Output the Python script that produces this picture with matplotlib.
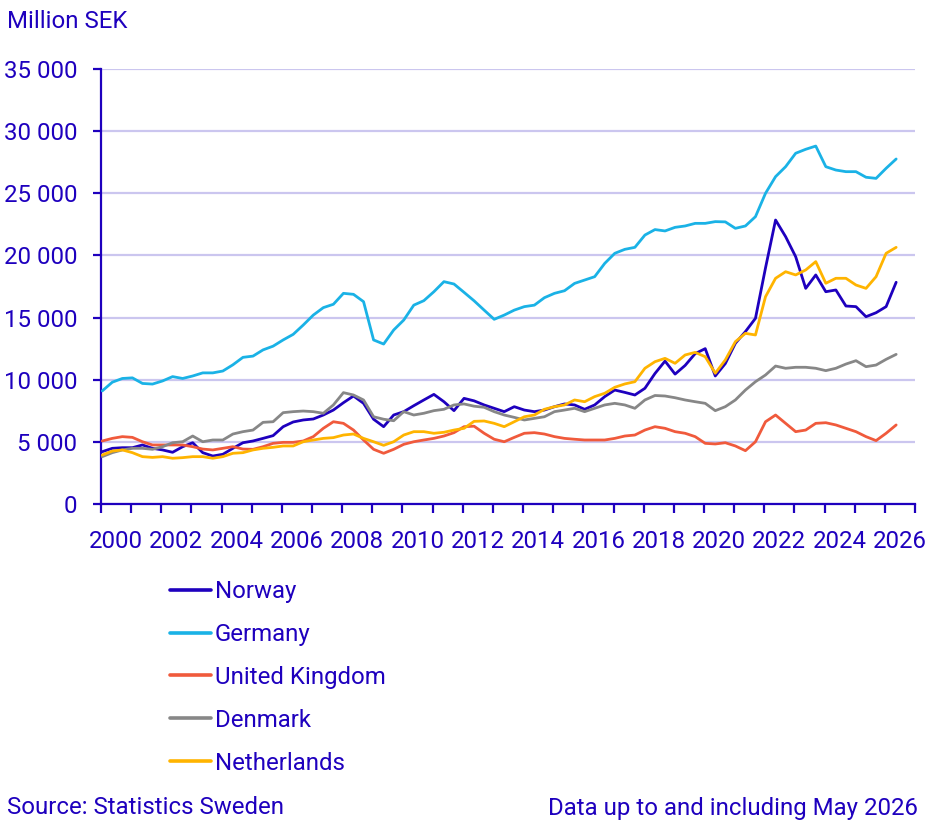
import matplotlib
matplotlib.use("Agg")
import matplotlib.pyplot as plt
from matplotlib.ticker import FixedLocator, FuncFormatter, NullFormatter
import pandas as pd
import numpy as np

plt.rcParams['font.family'] = ['Roboto', 'DejaVu Sans']

# Observation dates (every 4th month, Jan 2000 - May 2026)
dates = pd.date_range('2000-01-01', '2026-05-01', freq='4MS')

norway = [4210, 4480, 4530, 4530, 4750, 4480, 4350, 4160, 4610, 4930,
          4130, 3860, 4000, 4480, 4930, 5070, 5280, 5500, 6220, 6600,
          6760, 6840, 7160, 7560, 8150, 8690, 8100, 6820, 6220, 7160,
          7430, 7910, 8370, 8820, 8230, 7510, 8500, 8300, 7970, 7700,
          7430, 7830, 7560, 7430, 7560, 7830, 8050, 7970, 7620, 7970,
          8640, 9170, 8980, 8770, 9310, 10500, 11500, 10450, 11150, 12100,
          12500, 10300, 11300, 12930, 13870, 14940, 19000, 22850, 21510, 19900,
          17350, 18430, 17080, 17220, 15930, 15880, 15070, 15390, 15880, 17840]

germany = [9100, 9800, 10100, 10150, 9700, 9650, 9900, 10250, 10100, 10300,
           10550, 10550, 10700, 11200, 11800, 11900, 12400, 12700, 13200, 13650,
           14400, 15200, 15800, 16070, 16950, 16870, 16280, 13200, 12870, 14000,
           14800, 16000, 16360, 17080, 17890, 17700, 17030, 16350, 15600, 14860,
           15200, 15600, 15880, 16000, 16600, 16950, 17160, 17750, 18020, 18290,
           19360, 20170, 20490, 20650, 21640, 22080, 21970, 22260, 22370, 22580,
           22580, 22720, 22700, 22180, 22370, 23120, 25000, 26340, 27140, 28220,
           28540, 28800, 27140, 26870, 26740, 26740, 26290, 26200, 27010, 27760]

united_kingdom = [5070, 5280, 5420, 5360, 5010, 4750, 4750, 4750, 4750, 4610,
                  4420, 4350, 4480, 4610, 4420, 4400, 4610, 4880, 4960, 4960,
                  5070, 5420, 6090, 6620, 6490, 5950, 5150, 4400, 4080, 4400,
                  4800, 5010, 5150, 5280, 5470, 5740, 6220, 6260, 5690, 5210,
                  5010, 5360, 5690, 5740, 5630, 5420, 5280, 5210, 5150, 5150,
                  5150, 5280, 5470, 5550, 5950, 6220, 6090, 5820, 5690, 5420,
                  4880, 4830, 4930, 4670, 4290, 5010, 6620, 7160, 6490, 5820,
                  5950, 6490, 6540, 6360, 6090, 5820, 5420, 5100, 5690, 6360]

denmark = [3810, 4130, 4350, 4480, 4480, 4400, 4610, 4930, 5010, 5470,
           5010, 5150, 5150, 5630, 5820, 5950, 6570, 6620, 7350, 7430,
           7480, 7430, 7300, 7970, 8960, 8770, 8370, 7020, 6820, 6700,
           7430, 7160, 7300, 7510, 7620, 7970, 8050, 7870, 7780, 7430,
           7160, 6970, 6760, 6890, 7020, 7430, 7560, 7700, 7430, 7700,
           7970, 8100, 7970, 7700, 8370, 8730, 8690, 8550, 8370, 8230,
           8100, 7510, 7830, 8370, 9170, 9840, 10380, 11100, 10920, 11000,
           11000, 10920, 10730, 10920, 11260, 11530, 11050, 11180, 11640, 12040]

netherlands = [3940, 4260, 4350, 4130, 3810, 3750, 3810, 3680, 3730, 3810,
               3810, 3680, 3810, 4080, 4130, 4350, 4480, 4560, 4670, 4670,
               5010, 5150, 5280, 5340, 5550, 5630, 5280, 5010, 4720, 5010,
               5550, 5820, 5820, 5690, 5770, 5950, 6090, 6650, 6680, 6490,
               6220, 6620, 7020, 7160, 7620, 7830, 7970, 8370, 8230, 8640,
               8910, 9390, 9660, 9840, 10920, 11450, 11720, 11320, 11990, 12200,
               11850, 10520, 11590, 13060, 13730, 13600, 16680, 18160, 18690, 18430,
               18830, 19500, 17760, 18160, 18160, 17620, 17350, 18290, 20170, 20650]

series_names = ['Norway', 'Germany', 'United Kingdom', 'Denmark', 'Netherlands']
series_values = [norway, germany, united_kingdom, denmark, netherlands]
series_colors = ['#1e00be', '#1ab2e6', '#f05a3c', '#878787', '#ffb400']

year_labels = list(range(2000, 2027, 2))
y_ticks = list(range(0, 35001, 5000))

TXT = '#1e00be'
GRID = '#cbc6ef'
FS = 17.3

# decimal-year position in the middle of each month
xpos = dates.year + (dates.month - 1 + 0.5) / 12.0

fig = plt.figure(figsize=(9.52, 8.26), dpi=100)
ax = fig.add_axes([101/952, 1 - 504/826, 814/952, 435/826])

for name, vals, col in zip(series_names, series_values, series_colors):
    ax.plot(xpos, vals, color=col, lw=2.0, label=name, solid_capstyle='round',
            solid_joinstyle='round', zorder=3)

ax.set_xlim(2000, 2027)
ax.set_ylim(0, 35000)

# y axis
ax.set_yticks(y_ticks)
ax.yaxis.set_major_formatter(FuncFormatter(lambda v, p: f"{int(v):,}".replace(',', ' ')))
ax.tick_params(axis='y', direction='out', length=6, width=1.6, color=TXT,
               labelcolor=TXT, labelsize=FS, pad=11)
ax.grid(axis='y', color=GRID, lw=1.6, zorder=0)

# x axis: tick marks at year boundaries, labels centred in year bands
ax.xaxis.set_major_locator(FixedLocator([y + 0.5 for y in year_labels]))
ax.set_xticklabels([str(y) for y in year_labels])
ax.xaxis.set_minor_locator(FixedLocator(list(range(2000, 2028))))
ax.xaxis.set_minor_formatter(NullFormatter())
ax.tick_params(axis='x', which='major', length=0, labelcolor=TXT, labelsize=FS, pad=18.5)
ax.tick_params(axis='x', which='minor', direction='out', length=6.5, width=1.6, color=TXT)

for s in ['top', 'right']:
    ax.spines[s].set_visible(False)
for s in ['left', 'bottom']:
    ax.spines[s].set_color(TXT)
    ax.spines[s].set_linewidth(1.6)
ax.set_axisbelow(True)

fig.text(7/952, 1 - 21/826, 'Million SEK', color=TXT, fontsize=FS, ha='left', va='center')

leg = fig.legend(loc='upper left', bbox_to_anchor=(170/952, 1 - 580/826), frameon=False,
                 fontsize=FS, labelcolor=TXT, handlelength=1.7, handletextpad=0.17,
                 labelspacing=0.83, borderaxespad=0, borderpad=0)
for h in leg.get_lines():
    h.set_linewidth(2.6)

fig.text(7/952, 1 - 808/826, 'Source: Statistics Sweden', color=TXT, fontsize=FS,
         ha='left', va='center')
fig.text(918/952, 1 - 808/826, 'Data up to and including May 2026', color=TXT,
         fontsize=FS, ha='right', va='center')

fig.savefig('out.png', dpi=100)
